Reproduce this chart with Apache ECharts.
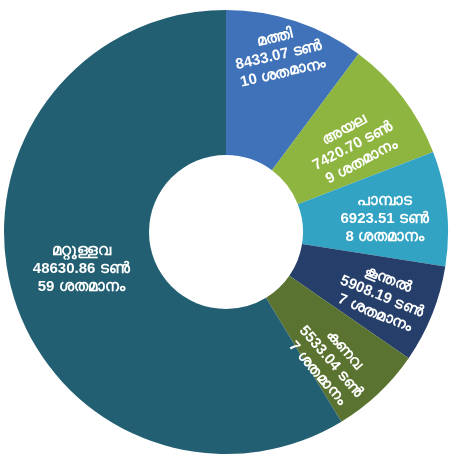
<!DOCTYPE html>
<html>
<head>
<meta charset="utf-8">
<script src="https://cdn.jsdelivr.net/npm/echarts@6/dist/echarts.min.js"></script>
<style>
html,body{margin:0;padding:0;background:#fff;}
#c{width:451px;height:454px;}
</style>
</head>
<body>
<div id="c"></div>
<script>
var names = ['മത്തി', 'അയല', 'പാമ്പാട', 'കൂന്തൽ', 'കണവ', 'മറ്റുള്ളവ'];
var tonnes = [8433.07, 7420.70, 6923.51, 5908.19, 5533.04, 48630.86];
var percents = [10, 9, 8, 7, 7, 59];
var colors = ['#3f72b9', '#8db53f', '#33a3c4', '#253f6a', '#5b7330', '#235f72'];
var labelRotate = [13, 28, 0, -22, -49, 0];
var labelShift = [[12, -30], [2, 8], [7, 3], [16, 2], [14, 12], [2, -4]];

var chart = echarts.init(document.getElementById('c'));
chart.setOption({
  backgroundColor: '#ffffff',
  animation: false,
  series: [{
    type: 'pie',
    center: [226, 232],
    radius: [77, 222],
    startAngle: 90,
    clockwise: true,
    data: names.map(function (n, i) {
      return {
        name: n,
        value: tonnes[i],
        itemStyle: { color: colors[i] },
        label: { rotate: labelRotate[i] }
      };
    }),
    label: {
      show: true,
      position: 'inside',
      color: '#ffffff',
      fontSize: 15,
      fontWeight: 'bold',
      lineHeight: 18,
      fontFamily: 'Liberation Sans, Arial, sans-serif',
      align: 'center',
      formatter: function (p) {
        var i = p.dataIndex;
        return names[i] + '\n' + tonnes[i].toFixed(2) + ' ടൺ\n' + percents[i] + ' ശതമാനം';
      }
    },
    labelLayout: function (p) {
      var s = labelShift[p.dataIndex];
      return { dx: s[0], dy: s[1] };
    },
    labelLine: { show: false },
    emphasis: { disabled: true }
  }]
});
</script>
</body>
</html>
